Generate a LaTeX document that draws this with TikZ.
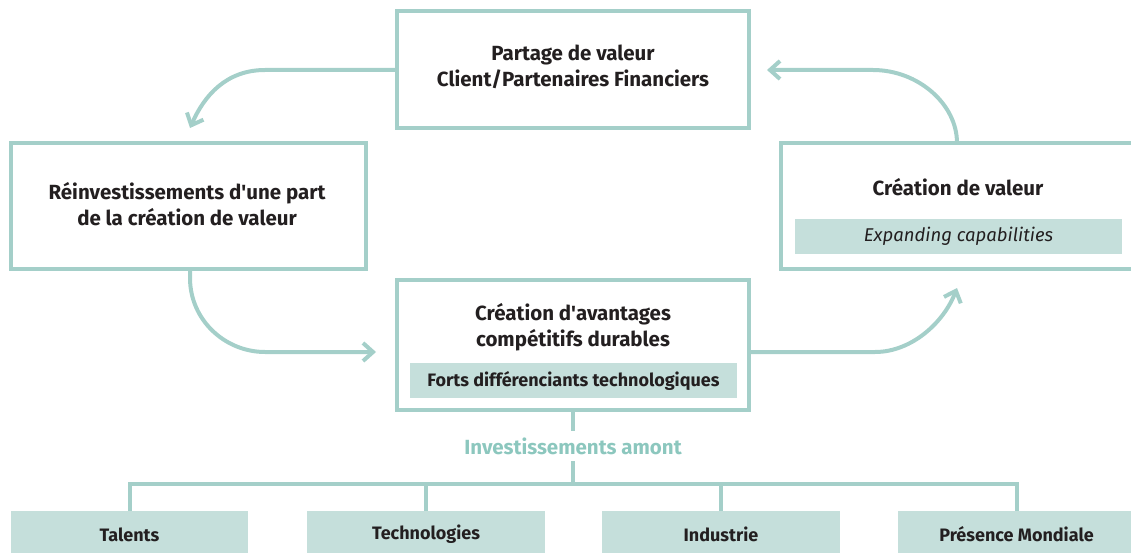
\documentclass[tikz,border=0pt]{standalone}
\usepackage{fontspec}
\setmainfont{Fira Sans}
\usetikzlibrary{
    positioning,
    arrows.meta
}
\definecolor{lineTeal}{RGB}{164, 207, 201}
\definecolor{fillTeal}{RGB}{197, 223, 219}
\definecolor{labelTeal}{RGB}{140, 199, 190}
\definecolor{textDark}{RGB}{35, 31, 32}

\tikzset{
    valuebox/.style={draw=lineTeal, line width=4pt, fill=white, inner sep=0pt},
    subband/.style={fill=fillTeal, inner sep=0pt, minimum height=35pt, text=textDark},
    boxtitle/.style={font=\bfseries\fontsize{20.5}{25.5}\selectfont, text=textDark, align=center},
    bandtext/.style={font=\bfseries\fontsize{18}{21}\selectfont},
    link/.style={draw=lineTeal, line width=4pt},
    arrowlink/.style={link, -{Straight Barb[length=10pt, width=18pt]}}
}

\begin{document}
\begin{tikzpicture}[x=1pt, y=-1pt]
    \useasboundingbox (0,0) rectangle (1131,553);
    \clip (0,0) rectangle (1131,553);

    % main boxes
    \node[valuebox, minimum width=352pt, minimum height=117pt] (partage) at (573,69.5) {};
    \node[valuebox, minimum width=355pt, minimum height=126pt] (reinvest) at (188.5,206) {};
    \node[valuebox, minimum width=364pt, minimum height=126pt] (creation) at (963,206) {};
    \node[valuebox, minimum width=352pt, minimum height=130pt] (avantages) at (573,345) {};

    % titles
    \node[boxtitle] (partagetext) at (573,67) {Partage de valeur\\Client/Partenaires Financiers};
    \node[boxtitle] (reinvesttext) at (187,204) {R\'einvestissements d\textquotesingle une part\\de la cr\'eation de valeur};
    \node[boxtitle] (creationtext) at (958,187) {Cr\'eation de valeur};
    \node[boxtitle] (avantagestext) at (573,327) {Cr\'eation d\textquotesingle avantages\\comp\'etitifs durables};

    % shaded bands
    \node[subband, minimum width=327pt, font=\itshape\fontsize{18.5}{21}\selectfont] (expanding) at (958.5,236.5) {Expanding capabilities};
    \node[subband, minimum width=327pt, bandtext] (forts) at (573.5,380.5) {Forts diff\'erenciants technologiques};

    % cycle arrows
    \coordinate (tipreinvest) at (190,128);
    \coordinate (outreinvest) at (190,269);
    \coordinate (tipavantages) at (376,352);
    \coordinate (outavantages) at (749,352);
    \coordinate (tipcreation) at (957,288);
    \coordinate (outcreation) at (957,143);
    \coordinate (tippartage) at (767,70);

    \draw[arrowlink] (partage.west |- 0,70) -- (265,70) .. controls (226,70) and (204,96) .. (tipreinvest);
    \draw[arrowlink] (outreinvest) -- (190,278) .. controls (190,320) and (225,352) .. (265,352) -- (tipavantages);
    \draw[arrowlink] (outavantages) -- (875,352) .. controls (912,352) and (944,322) .. (tipcreation);
    \draw[arrowlink] (outcreation) .. controls (957,104) and (918,70) .. (873,70) -- (tippartage);

    % upstream investments
    \node[font=\bfseries\fontsize{20.5}{22}\selectfont, text=labelTeal, minimum height=30pt, inner sep=0pt] (amont) at (573,446) {Investissements amont};
    \draw[link] (avantages.south) -- (amont.north);

    \node[subband, minimum width=237pt, minimum height=47pt, bandtext] (talents) at (129.5,534.5) {Talents};
    \node[subband, minimum width=238pt, minimum height=47pt, bandtext] (technologies) at (426,534.5) {Technologies};
    \node[subband, minimum width=238pt, minimum height=47pt, bandtext] (industrie) at (721,534.5) {Industrie};
    \node[subband, minimum width=237pt, minimum height=47pt, bandtext] (presence) at (1016.5,534.5) {Pr\'esence Mondiale};

    \foreach \b in {talents, technologies, industrie, presence}
        \draw[link] (amont.south) -- (573,484) -| (\b.north);
\end{tikzpicture}
\end{document}
